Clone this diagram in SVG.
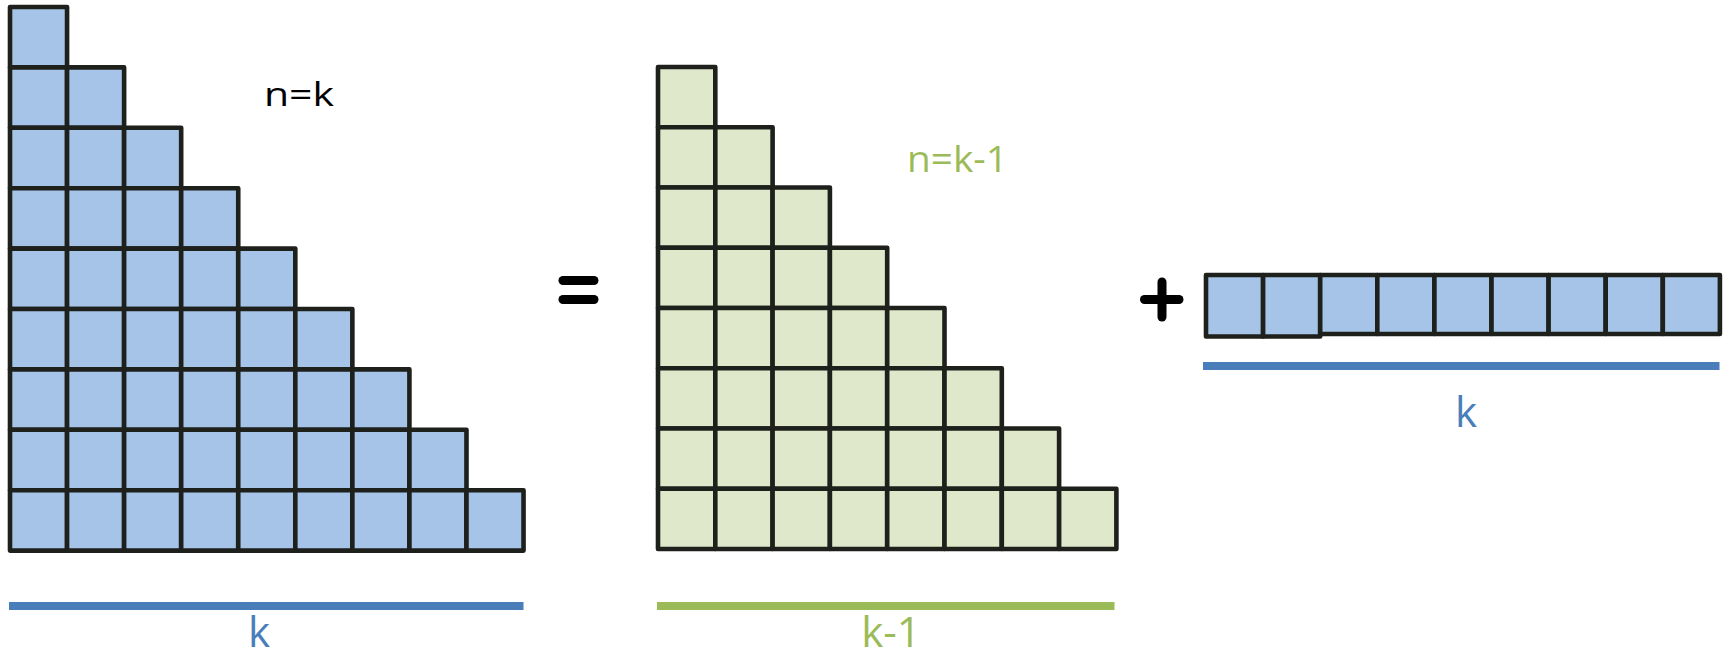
<svg xmlns="http://www.w3.org/2000/svg" xmlns:xlink="http://www.w3.org/1999/xlink" width="1732" height="656" viewBox="0 0 1732 656">
<style>
.cell{stroke:#1e201c;stroke-width:4.6;stroke-linejoin:round}
.blue{fill:#a6c3e8}
.green{fill:#dfe8ca}
.lbl{font-family:"Open Sans","Liberation Sans",sans-serif}
.sym{fill:#000;stroke:none}
</style>
<defs>
<rect id="cb" class="cell blue" width="57.06" height="60.4"/>
<rect id="cg" class="cell green" width="57.3" height="60.25"/>
<rect id="cr" class="cell blue" width="57.1" height="59"/>
<rect id="cr2" class="cell blue" width="57.1" height="61.5"/>
</defs>
<rect width="1732" height="656" fill="#fff"/>
<g id="triangle-k">
<use href="#cb" x="10" y="7"/>
<use href="#cb" x="10" y="67.4"/><use href="#cb" x="67.06" y="67.4"/>
<use href="#cb" x="10" y="127.8"/><use href="#cb" x="67.06" y="127.8"/><use href="#cb" x="124.12" y="127.8"/>
<use href="#cb" x="10" y="188.2"/><use href="#cb" x="67.06" y="188.2"/><use href="#cb" x="124.12" y="188.2"/><use href="#cb" x="181.18" y="188.2"/>
<use href="#cb" x="10" y="248.6"/><use href="#cb" x="67.06" y="248.6"/><use href="#cb" x="124.12" y="248.6"/><use href="#cb" x="181.18" y="248.6"/><use href="#cb" x="238.24" y="248.6"/>
<use href="#cb" x="10" y="309"/><use href="#cb" x="67.06" y="309"/><use href="#cb" x="124.12" y="309"/><use href="#cb" x="181.18" y="309"/><use href="#cb" x="238.24" y="309"/><use href="#cb" x="295.3" y="309"/>
<use href="#cb" x="10" y="369.4"/><use href="#cb" x="67.06" y="369.4"/><use href="#cb" x="124.12" y="369.4"/><use href="#cb" x="181.18" y="369.4"/><use href="#cb" x="238.24" y="369.4"/><use href="#cb" x="295.3" y="369.4"/><use href="#cb" x="352.36" y="369.4"/>
<use href="#cb" x="10" y="429.8"/><use href="#cb" x="67.06" y="429.8"/><use href="#cb" x="124.12" y="429.8"/><use href="#cb" x="181.18" y="429.8"/><use href="#cb" x="238.24" y="429.8"/><use href="#cb" x="295.3" y="429.8"/><use href="#cb" x="352.36" y="429.8"/><use href="#cb" x="409.42" y="429.8"/>
<use href="#cb" x="10" y="490.2"/><use href="#cb" x="67.06" y="490.2"/><use href="#cb" x="124.12" y="490.2"/><use href="#cb" x="181.18" y="490.2"/><use href="#cb" x="238.24" y="490.2"/><use href="#cb" x="295.3" y="490.2"/><use href="#cb" x="352.36" y="490.2"/><use href="#cb" x="409.42" y="490.2"/><use href="#cb" x="466.48" y="490.2"/>
</g>
<g id="label-n-k">
<text class="lbl" x="264" y="106" font-size="33" fill="#000" textLength="70" lengthAdjust="spacingAndGlyphs">n=k</text>
</g>
<g id="equals">
<rect class="sym" x="558.5" y="276" width="40" height="9" rx="4.5"/>
<rect class="sym" x="558.5" y="295" width="40" height="9" rx="4.5"/>
</g>
<g id="triangle-k-1">
<use href="#cg" x="658" y="67"/>
<use href="#cg" x="658" y="127.25"/><use href="#cg" x="715.3" y="127.25"/>
<use href="#cg" x="658" y="187.5"/><use href="#cg" x="715.3" y="187.5"/><use href="#cg" x="772.6" y="187.5"/>
<use href="#cg" x="658" y="247.75"/><use href="#cg" x="715.3" y="247.75"/><use href="#cg" x="772.6" y="247.75"/><use href="#cg" x="829.9" y="247.75"/>
<use href="#cg" x="658" y="308"/><use href="#cg" x="715.3" y="308"/><use href="#cg" x="772.6" y="308"/><use href="#cg" x="829.9" y="308"/><use href="#cg" x="887.2" y="308"/>
<use href="#cg" x="658" y="368.25"/><use href="#cg" x="715.3" y="368.25"/><use href="#cg" x="772.6" y="368.25"/><use href="#cg" x="829.9" y="368.25"/><use href="#cg" x="887.2" y="368.25"/><use href="#cg" x="944.5" y="368.25"/>
<use href="#cg" x="658" y="428.5"/><use href="#cg" x="715.3" y="428.5"/><use href="#cg" x="772.6" y="428.5"/><use href="#cg" x="829.9" y="428.5"/><use href="#cg" x="887.2" y="428.5"/><use href="#cg" x="944.5" y="428.5"/><use href="#cg" x="1001.8" y="428.5"/>
<use href="#cg" x="658" y="488.75"/><use href="#cg" x="715.3" y="488.75"/><use href="#cg" x="772.6" y="488.75"/><use href="#cg" x="829.9" y="488.75"/><use href="#cg" x="887.2" y="488.75"/><use href="#cg" x="944.5" y="488.75"/><use href="#cg" x="1001.8" y="488.75"/><use href="#cg" x="1059.1" y="488.75"/>
</g>
<g id="label-n-k-1">
<text class="lbl" x="907" y="172" font-size="36" fill="#9bbb59" textLength="101" lengthAdjust="spacingAndGlyphs">n=k-1</text>
</g>
<g id="plus">
<rect class="sym" x="1140" y="295" width="43.5" height="9" rx="4.5"/>
<rect class="sym" x="1157.5" y="277.5" width="9" height="44" rx="4.5"/>
</g>
<g id="row-k">
<use href="#cr2" x="1206" y="275"/><use href="#cr2" x="1263.1" y="275"/>
<use href="#cr" x="1320.2" y="275"/><use href="#cr" x="1377.3" y="275"/><use href="#cr" x="1434.4" y="275"/><use href="#cr" x="1491.5" y="275"/><use href="#cr" x="1548.6" y="275"/><use href="#cr" x="1605.7" y="275"/><use href="#cr" x="1662.8" y="275"/>
</g>
<g id="connectors">
<rect x="9" y="602" width="514.5" height="8" fill="#4a7ebb"/>
<rect x="657" y="602" width="457.5" height="8" fill="#9bbb59"/>
<rect x="1203" y="362" width="516.5" height="8" fill="#4a7ebb"/>
</g>
<g id="labels-bottom">
<text class="lbl" x="259" y="647" font-size="42" fill="#4a7ebb" text-anchor="middle">k</text>
<text class="lbl" x="891" y="647" font-size="42" fill="#9bbb59" text-anchor="middle">k-1</text>
<text class="lbl" x="1466" y="427" font-size="42" fill="#4a7ebb" text-anchor="middle">k</text>
</g>
</svg>
